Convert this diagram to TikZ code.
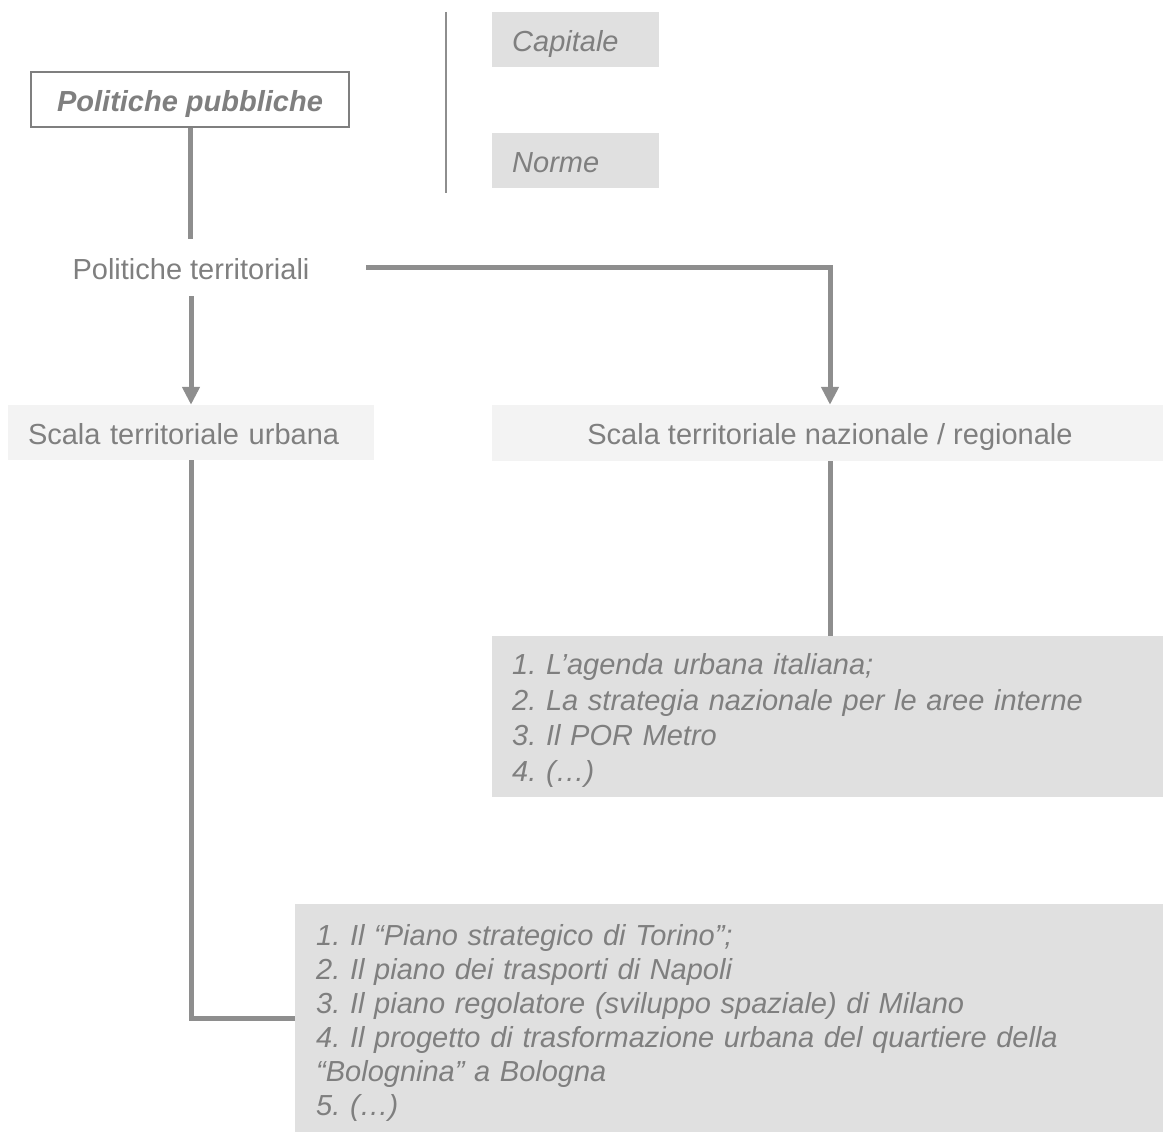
\documentclass[tikz,border=0pt]{standalone}
\usepackage{fontspec}
\setmainfont{Liberation Sans}
\usetikzlibrary{arrows.meta,calc}
\definecolor{txtc}{HTML}{7F7F7F}
\definecolor{linec}{HTML}{8E8E8E}
\definecolor{darkfill}{HTML}{E0E0E0}
\definecolor{lightfill}{HTML}{F3F3F3}
\tikzset{
  base/.style={font=\fontsize{29}{35.5}\selectfont\frenchspacing, text=txtc, inner sep=0pt},
  oneline/.style={text height=23pt, text depth=0pt},
  darkbox/.style={base, fill=darkfill, align=left},
  lightbox/.style={base, fill=lightfill},
  conn/.style={draw=linec, line width=5pt},
  arr/.style={conn, -{Triangle[width=17pt,length=18pt]}},
  sepline/.style={draw=linec, line width=2.5pt},
}
\begin{document}
\begin{tikzpicture}[x=1pt,y=-1pt]
\useasboundingbox (0,0) rectangle (1163,1132);
% side boxes
\node[darkbox, oneline, anchor=north west, minimum width=167, minimum height=55, text width=127, inner xsep=20pt] (cap) at (492,12) {\itshape Capitale};
\node[darkbox, oneline, anchor=north west, minimum width=167, minimum height=55, text width=127, inner xsep=20pt] (nor) at (492,133) {\itshape Norme};
\coordinate (sepT) at (446,12);
\coordinate (sepB) at (446,193);
\draw[sepline] (sepT) -- (sepB);
% main chain
\node[base, oneline, draw=txtc, line width=1.5pt, fill=white, minimum width=318, minimum height=55] (pp) at (190,99.5) {\bfseries\itshape Politiche pubbliche};
\node[base, oneline, minimum width=350, minimum height=57] (pt) at (191,267.5) {Politiche territoriali};
\node[lightbox, oneline, minimum width=366, minimum height=55, text width=326, inner xsep=20pt, align=left] (stu) at (191,432.5) {Scala territoriale urbana};
\node[lightbox, oneline, minimum width=676, minimum height=56] (stn) at (830,433) {Scala territoriale nazionale / regionale};
\node[darkbox, anchor=north west, minimum width=676, minimum height=161, text width=636, inner xsep=20pt] (l1) at (492,636) {\itshape\rule{0pt}{29pt}1. L’agenda urbana italiana;\\\itshape 2. La strategia nazionale per le aree interne\\\itshape 3. Il POR Metro\\\itshape 4. (…)};
\node[darkbox, anchor=north west, minimum width=873, minimum height=228, text width=852, inner xsep=21pt, font=\fontsize{29}{34}\selectfont\frenchspacing] (l2) at (295,904) {\itshape\rule{0pt}{31pt}1. Il “Piano strategico di Torino”;\\\itshape 2. Il piano dei trasporti di Napoli\\\itshape 3. Il piano regolatore (sviluppo spaziale) di Milano\\\itshape 4. Il progetto di trasformazione urbana del quartiere della\\\itshape “Bolognina” a Bologna\\\itshape 5. (…)};
% connectors
\draw[conn] (pp.south) -- (pp.south |- pt.north);
\draw[arr] (pt.south) -- (stu.north);
\draw[arr] (pt.east) -| (stn.north);
\draw[conn] (stn.south) -- (l1.north -| stn.south);
\draw[conn] (stu.south) |- (l2.west);
\end{tikzpicture}
\end{document}
